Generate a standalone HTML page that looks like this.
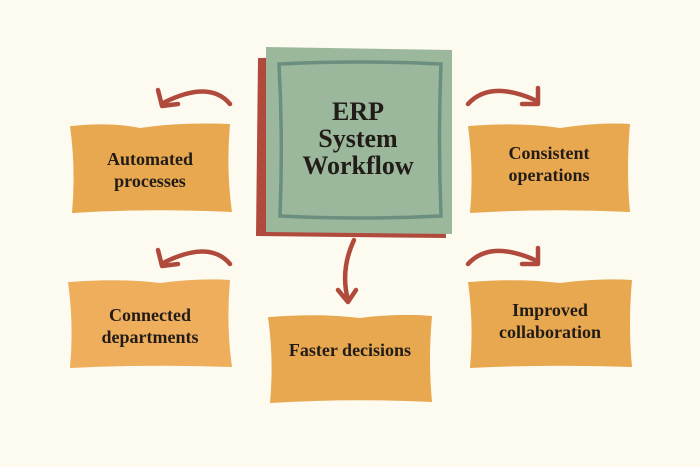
<!DOCTYPE html>
<html><head><style>
body{margin:0;background:#fdfaf0;}
svg{display:block}
text{font-family:"Liberation Serif",serif;font-weight:bold;fill:#221c18;text-anchor:middle}
</style></head><body>
<svg width="700" height="467" viewBox="0 0 700 467">
<rect width="700" height="467" fill="#fdfaf0"/>
<path d="M258 58 L440 55 L446 238 L256 236 Z" fill="#b04a3c"/>
<path d="M266 47 L452 50 L452 234 L266 232 Z" fill="#9bb89c"/>
<path d="M279 64 Q360 60 441 64 Q438 140 441 216 Q360 220 280 216 Q283 140 279 64 Z" fill="none" stroke="#6a8f7f" stroke-width="3.5"/>
<text x="358" y="120" font-size="26">ERP</text>
<text x="358" y="147" font-size="26">System</text>
<text x="358" y="174" font-size="26">Workflow</text>
<g fill="#e8a84f">
<path d="M72 126 Q110 122 140 128 Q180 122 230 124 Q226 170 232 212 Q150 208 72 213 Q76 170 70 126 Z"/>
<path d="M470 126 Q520 122 560 128 Q600 122 630 124 Q626 170 630 212 Q550 208 470 213 Q474 170 468 126 Z"/>
<path d="M70 282 Q120 278 160 283 Q200 278 230 280 Q226 325 232 367 Q150 364 70 368 Q74 325 68 282 Z" fill="#efae5c"/>
<path d="M470 282 Q520 278 560 283 Q600 278 632 280 Q628 325 632 367 Q550 364 470 368 Q474 325 468 282 Z"/>
<path d="M270 317 Q320 313 360 318 Q400 313 432 316 Q428 360 432 402 Q350 398 270 403 Q274 360 268 317 Z"/>
</g>
<g font-size="18">
<text x="150" y="165">Automated</text>
<text x="150" y="187">processes</text>
<text x="549" y="159">Consistent</text>
<text x="549" y="181">operations</text>
<text x="150" y="321">Connected</text>
<text x="150" y="343">departments</text>
<text x="550" y="316">Improved</text>
<text x="550" y="338">collaboration</text>
<text x="350" y="356">Faster decisions</text>
</g>
<g fill="none" stroke="#b04a3c" stroke-width="4.5" stroke-linecap="round" stroke-linejoin="round">
<path d="M230 104 Q210 80 165 102"/><path d="M158 90 L162 106 L178 104"/>
<path d="M230 264 Q210 240 165 262"/><path d="M158 250 L162 266 L178 264"/>
<path d="M468 104 Q490 80 535 100"/><path d="M538 88 L538 104 L522 104"/>
<path d="M468 264 Q490 240 535 260"/><path d="M538 248 L538 264 L522 264"/>
<path d="M354 240 Q340 270 348 300"/><path d="M338 290 L348 302 L356 290"/>
</g>
</svg>
</body></html>
